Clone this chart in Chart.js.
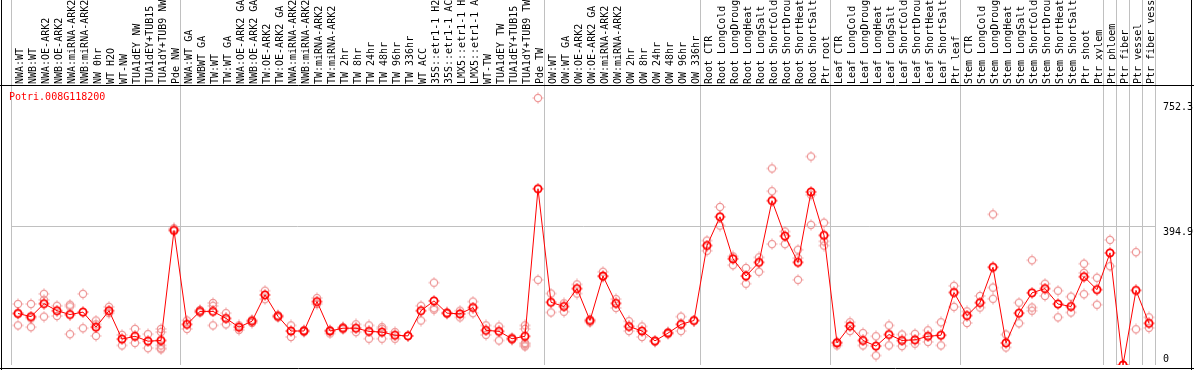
<!DOCTYPE html>
<html>
<head>
<meta charset="utf-8">
<script src="https://cdn.jsdelivr.net/npm/chart.js@4/dist/chart.umd.min.js"></script>
<style>
  html, body { margin: 0; padding: 0; background: #fff; }
  canvas { display: block; }
</style>
</head>
<body>
<canvas id="chartCanvas" width="1194" height="370"></canvas>
<script>
// ------------------------------------------------------------------
// Expression profile: one gene, mean per sample + replicate points
// ------------------------------------------------------------------

var geneName = 'Potri.008G118200'

// sample names (x axis, drawn on top)
var categories = [
    'NWA:WT', 'NWB:WT', 'NWA:OE-ARK2', 'NWB:OE-ARK2', 'NWA:miRNA-ARK2', 'NWB:miRNA-ARK2',
    'NW 0hr', 'WT H2O', 'WT-NW', 'TUA1dEY NW', 'TUA1dEY+TUB15', 'TUA1dY+TUB9 NW', 'Pde NW',
    'NWA:WT GA', 'NWBWT GA', 'TW:WT', 'TW:WT GA', 'NWA:OE-ARK2 GA', 'NWB:OE-ARK2 GA',
    'TW:OE-ARK2', 'TW:OE-ARK2 GA', 'NWA:miRNA-ARK2', 'NWB:miRNA-ARK2', 'TW:miRNA-ARK2',
    'TW:miRNA-ARK2', 'TW 2hr', 'TW 8hr', 'TW 24hr', 'TW 48hr', 'TW 96hr', 'TW 336hr',
    'WT ACC', '35S::etr1-1 H2', '35S::etr1-1 AC', 'LMX5::etr1-1 H', 'LMX5::etr1-1 A',
    'WT-TW', 'TUA1dEY TW', 'TUA1dEY+TUB15', 'TUA1dY+TUB9 TW', 'Pde TW',
    'OW:WT', 'OW:WT GA', 'OW:OE-ARK2', 'OW:OE-ARK2 GA', 'OW:miRNA-ARK2', 'OW:miRNA-ARK2',
    'OW 2hr', 'OW 8hr', 'OW 24hr', 'OW 48hr', 'OW 96hr', 'OW 336hr',
    'Root CTR', 'Root LongCold', 'Root LongDroug', 'Root LongHeat', 'Root LongSalt',
    'Root ShortCold', 'Root ShortDrou', 'Root ShortHeat', 'Root ShortSalt', 'Ptr root',
    'Leaf CTR', 'Leaf LongCold', 'Leaf LongDroug', 'Leaf LongHeat', 'Leaf LongSalt',
    'Leaf ShortCold', 'Leaf ShortDrou', 'Leaf ShortHeat', 'Leaf ShortSalt', 'Ptr leaf',
    'Stem CTR', 'Stem LongCold', 'Stem LongDroug', 'Stem LongHeat', 'Stem LongSalt',
    'Stem ShortCold', 'Stem ShortDrou', 'Stem ShortHeat', 'Stem ShortSalt', 'Ptr shoot',
    'Ptr xylem', 'Ptr phloem', 'Ptr fiber', 'Ptr vessel', 'Ptr fiber vessel'
]

// mean expression per sample (red line)
var means = [
    147, 138, 175, 155, 144, 151, 108, 155, 74, 82, 68, 70, 384,
    116, 153, 153, 133, 108, 125, 200, 139, 97, 97, 181, 97, 105, 105, 96, 94, 85, 83,
    155, 183, 148, 146, 164, 99, 96, 75, 82, 503,
    179, 167, 218, 127, 254, 176, 110, 97, 69, 91, 116, 127,
    341, 423, 303, 254, 293, 469, 368, 293, 494, 370,
    63, 111, 70, 54, 87, 70, 72, 82, 85, 207,
    141, 178, 279, 63, 148, 206, 218, 174, 167, 252, 215,
    320, 0, 213, 119
]

// single replicate values per sample (pink circles)
var replicates = [
    [174, 147, 113], [174, 108, 133], [203, 186, 138], [169, 140], [172, 167, 88], [203, 105],
    [127, 116, 83], [166, 148], [86, 56], [103, 63], [88, 48], [103, 94, 56, 48, 45], [390, 387],
    [127, 103], [157, 150], [177, 169, 113], [148, 116], [113, 100], [129, 120],
    [212, 188], [142, 136], [113, 80], [100, 94], [191, 174],
    [100, 90], [108, 102], [116, 94], [113, 75], [108, 103, 75], [94, 75], [83],
    [169, 127], [235, 162, 158], [150, 146], [155, 136], [181, 148],
    [113, 86], [110, 70], [78, 72], [113, 103, 63, 60, 56, 53], [762, 243],
    [204, 150], [176, 152], [230, 204], [130, 122], [266, 252], [188, 163],
    [125, 97], [110, 80], [66], [94, 88], [138, 97], [127],
    [355, 326], [451, 398], [310, 285], [277, 232], [307, 266],
    [561, 496, 345], [381, 345], [329, 305, 243], [595, 486, 400], [406, 353, 341],
    [56, 66], [122, 97], [91, 56], [82, 27], [113, 56],
    [87, 54], [89, 61], [99, 66], [122, 56], [226, 166],
    [153, 120], [197, 164], [430, 221, 189], [87, 50], [178, 119],
    [299, 164, 155], [232, 197], [212, 136], [195, 150], [289, 263, 202],
    [249, 172], [357, 282], [0], [322, 102], [136, 106]
]

// right-hand tick labels and the y range
var yTicks = [0, 394.9, 752.3]
var yMax = 796.3

// where the grey separators go (index of first sample in each block, last = end)
var groupBreaks = [0, 13, 41, 53, 63, 73, 84, 85, 86, 87, 88]

var monoFont = 'DejaVu Sans Mono'

// small ring marker with short tick marks, used as point style
function makeMarker(color, lineWidth) {
    var c = document.createElement('canvas')
    c.width = 12
    c.height = 12
    var g = c.getContext('2d')
    g.strokeStyle = color
    g.lineWidth = lineWidth
    g.beginPath()
    g.arc(6, 6, 3.6, 0, Math.PI * 2)
    g.stroke()
    g.lineWidth = 1
    g.beginPath()
    g.moveTo(6, 0.5); g.lineTo(6, 1.8)
    g.moveTo(6, 10.2); g.lineTo(6, 11.5)
    g.moveTo(0.5, 6); g.lineTo(1.8, 6)
    g.moveTo(10.2, 6); g.lineTo(11.5, 6)
    g.stroke()
    return c
}

var meanMarker = makeMarker('#ff0000', 1.8)
var repMarker = makeMarker('rgb(238,150,150)', 1.2)

// replicate points, already in index form (x = sample index)
var repPoints = []
replicates.map((vals, i) => {
    vals.map(v => repPoints.push({ x: i, y: v }))
})

// frame, separators, title and y labels
var decorPlugin = {
    id: 'decor',
    beforeDraw(chart) {
        var c = chart.ctx
        c.save()
        c.fillStyle = '#fff'
        c.fillRect(0, 0, chart.width, chart.height)
        c.restore()
    },
    beforeDatasetsDraw(chart) {
        var c = chart.ctx
        var xs = chart.scales.x
        var half = (xs.getPixelForValue(1) - xs.getPixelForValue(0)) / 2
        c.save()
        c.strokeStyle = '#c0c0c0'
        c.lineWidth = 1
        groupBreaks.map(b => {
            var px
            if (b < categories.length) px = xs.getPixelForValue(b) - half
            else px = xs.getPixelForValue(b - 1) + half
            px = Math.floor(px) + 0.5
            c.beginPath()
            c.moveTo(px, 0)
            c.lineTo(px, chart.chartArea.bottom)
            c.stroke()
        })
        c.restore()
    },
    afterDraw(chart) {
        var c = chart.ctx
        var ys = chart.scales.y
        c.save()
        c.strokeStyle = '#000'
        c.lineWidth = 1
        c.beginPath()
        c.moveTo(0, 85.5); c.lineTo(chart.width, 85.5)
        c.moveTo(1.5, 0); c.lineTo(1.5, 370)
        c.moveTo(1191.5, 0); c.lineTo(1191.5, 370)
        c.moveTo(0, 368.5); c.lineTo(chart.width, 368.5)
        c.stroke()

        c.font = '10px "' + monoFont + '"'
        c.fillStyle = '#ff0000'
        c.textBaseline = 'middle'
        c.textAlign = 'left'
        c.fillText(geneName, 9, 97)

        c.fillStyle = '#000'
        yTicks.map(v => {
            var py = ys.getPixelForValue(v)
            c.textBaseline = v === 0 ? 'bottom' : 'top'
            c.fillText(String(v), 1163, v === 0 ? py - 1 : py + 1)
        })
        c.restore()
    }
}

var ctx = document.getElementById('chartCanvas')
var myChart = new Chart(ctx, {
    type: 'line',
    data: {
        labels: categories,
        datasets: [
            {
                label: 'mean',
                data: means,
                borderColor: '#ff0000',
                borderWidth: 1,
                pointStyle: meanMarker,
                tension: 0,
                order: 1
            },
            {
                label: 'replicates',
                data: repPoints,
                parsing: false,
                showLine: false,
                pointStyle: repMarker,
                order: 2
            }
        ]
    },
    options: {
        responsive: false,
        animation: false,
        events: [],
        layout: { padding: { left: 11.5, top: 0, right: 0, bottom: 1.7 } },
        plugins: { legend: { display: false }, tooltip: { enabled: false } },
        scales: {
            x: {
                position: 'top',
                offset: true,
                grid: { display: false, drawTicks: false },
                border: { display: false },
                ticks: {
                    autoSkip: false,
                    minRotation: 90,
                    maxRotation: 90,
                    padding: 2,
                    labelOffset: 14,
                    color: '#000',
                    font: { family: monoFont, size: 10 }
                },
                afterFit: s => { s.height = 86 }
            },
            y: {
                position: 'right',
                min: 0,
                max: yMax,
                grid: {
                    drawTicks: false,
                    color: c => (c.tick && c.tick.value === 394.9) ? '#c0c0c0' : 'rgba(0,0,0,0)'
                },
                border: { display: false },
                ticks: { display: false },
                afterBuildTicks: s => { s.ticks = yTicks.map(v => ({ value: v })) },
                afterFit: s => { s.width = 38.5 }
            }
        }
    },
    plugins: [decorPlugin]
})
</script>
</body>
</html>
